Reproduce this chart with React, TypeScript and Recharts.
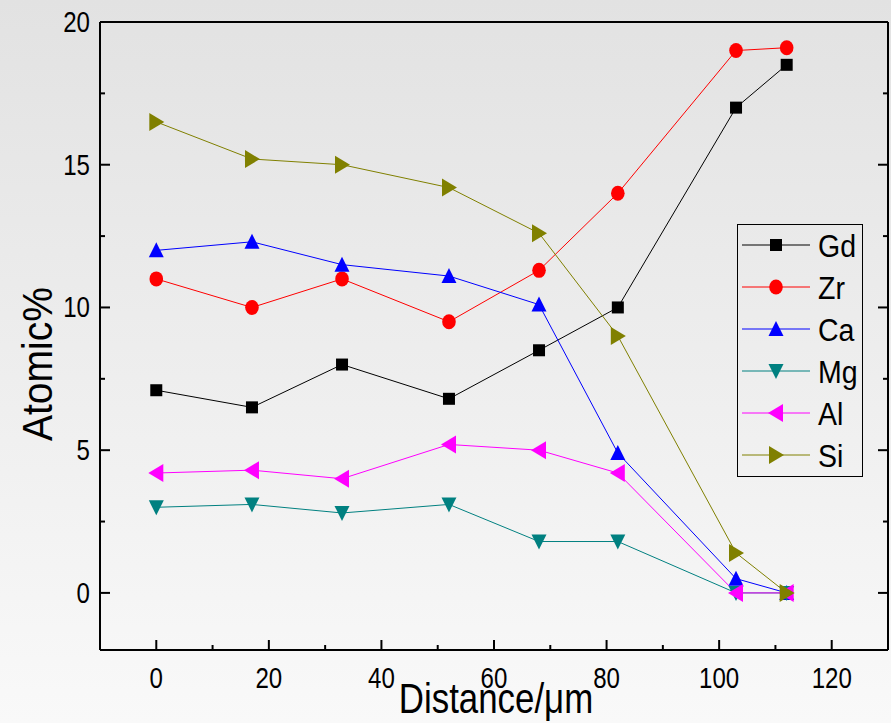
// Atomic% vs distance line scan (Gd, Zr, Ca, Mg, Al, Si)

import { LineChart, Line, XAxis, YAxis, Label } from "recharts";

const distance = [0, 17, 33, 52, 68, 82, 103, 112];
const gd = [7.1, 6.5, 8.0, 6.8, 8.5, 10.0, 17.0, 18.5];
const zr = [11.0, 10.0, 11.0, 9.5, 11.3, 14.0, 19.0, 19.1];
const ca = [12.0, 12.3, 11.5, 11.1, 10.1, 4.9, 0.5, 0];
const mg = [3.0, 3.1, 2.8, 3.1, 1.8, 1.8, 0, 0];
const al = [4.2, 4.3, 4.0, 5.2, 5.0, 4.2, 0, 0];
const si = [16.5, 15.2, 15.0, 14.2, 12.6, 9.0, 1.4, 0];

const xTicks = [0, 10, 20, 30, 40, 50, 60, 70, 80, 90, 100, 110, 120];
const yTicks = [0, 2.5, 5, 7.5, 10, 12.5, 15, 17.5, 20];

const series = [
  { name: "Gd", values: gd, color: "#000000", shape: "square" },
  { name: "Zr", values: zr, color: "#ff0000", shape: "circle" },
  { name: "Ca", values: ca, color: "#0000ff", shape: "up" },
  { name: "Mg", values: mg, color: "#008080", shape: "down" },
  { name: "Al", values: al, color: "#ff00ff", shape: "left" },
  { name: "Si", values: si, color: "#808000", shape: "right" },
];

const data = distance.map((d, i) => {
  const row: Record<string, number> = { distance: d };
  series.forEach((s) => {
    row[s.name] = s.values[i];
  });
  return row;
});

const W = 891;
const H = 723;
// plot area: x 100..888, y 22..650
const plotLeft = 100;
const plotRight = 888;
const plotTop = 22;
const plotBottom = 650;
const font = "'Liberation Sans', Arial, sans-serif";

// condensed text, like the Origin export
function Txt({ x, y, size, sx = 0.85, anchor = "middle", rotate = 0, children }: any) {
  return (
    <text
      transform={`translate(${x},${y}) rotate(${rotate}) scale(${sx},1)`}
      textAnchor={anchor}
      fontSize={size}
      fontFamily={font}
      fill="#000"
    >
      {children}
    </text>
  );
}

function Marker({ cx, cy, color, shape }: any) {
  if (cx == null || cy == null) return null;
  if (shape === "square")
    return <rect x={cx - 6} y={cy - 6} width={12} height={12} fill={color} />;
  if (shape === "circle")
    return <ellipse cx={cx} cy={cy} rx={6.8} ry={7.5} fill={color} />;
  let pts = "";
  if (shape === "up") pts = `${cx},${cy - 8} ${cx - 7.5},${cy + 7} ${cx + 7.5},${cy + 7}`;
  if (shape === "down") pts = `${cx},${cy + 8} ${cx - 7.5},${cy - 7} ${cx + 7.5},${cy - 7}`;
  if (shape === "left") pts = `${cx - 8},${cy} ${cx + 7},${cy - 9} ${cx + 7},${cy + 9}`;
  if (shape === "right") pts = `${cx + 8},${cy} ${cx - 7},${cy - 9} ${cx - 7},${cy + 9}`;
  return <polygon points={pts} fill={color} />;
}

function BottomTick({ x, payload }: any) {
  const major = payload.value % 20 === 0;
  return (
    <g>
      <line x1={x} x2={x} y1={plotBottom} y2={plotBottom - (major ? 10 : 5)} stroke="#000" strokeWidth={2} />
      {major && (
        <Txt x={x} y={plotBottom + 38} size={29} sx={0.83}>
          {payload.value}
        </Txt>
      )}
    </g>
  );
}

function TopTick({ x, payload }: any) {
  const major = payload.value % 20 === 0;
  return <line x1={x} x2={x} y1={plotTop} y2={plotTop + (major ? 10 : 5)} stroke="#000" strokeWidth={2} />;
}

function LeftTick({ y, payload }: any) {
  const major = payload.value % 5 === 0;
  return (
    <g>
      <line x1={plotLeft} x2={plotLeft + (major ? 10 : 5)} y1={y} y2={y} stroke="#000" strokeWidth={2} />
      {major && (
        <Txt x={plotLeft - 10} y={y + 10} size={29} sx={0.83} anchor="end">
          {payload.value}
        </Txt>
      )}
    </g>
  );
}

function RightTick({ y, payload }: any) {
  const major = payload.value % 5 === 0;
  return <line x1={plotRight} x2={plotRight - (major ? 10 : 5)} y1={y} y2={y} stroke="#000" strokeWidth={2} />;
}

function XTitle({ viewBox }: any) {
  const { x, width } = viewBox;
  return (
    <Txt x={x + width / 2 + 2} y={plotBottom + 63} size={42} sx={0.83}>
      Distance/μm
    </Txt>
  );
}

function YTitle({ viewBox }: any) {
  const { y, height } = viewBox;
  return (
    <Txt x={52} y={y + height / 2 + 28} size={42} sx={0.93} rotate={-90}>
      Atomic%
    </Txt>
  );
}

function LegendBox() {
  const rowH = 42;
  return (
    <svg width={126} height={253} style={{ position: "absolute", left: 737, top: 224 }}>
      <rect x={0.5} y={0.5} width={125} height={252} fill="none" stroke="#000" strokeWidth={1} />
      {series.map((s, i) => {
        const cy = 21 + i * rowH;
        return (
          <g key={s.name}>
            <line x1={5} x2={73} y1={cy} y2={cy} stroke={s.color} strokeWidth={1} />
            <Marker cx={39} cy={cy} color={s.color} shape={s.shape} />
            <Txt x={81} y={cy + 12} size={31} sx={0.92} anchor="start">
              {s.name}
            </Txt>
          </g>
        );
      })}
    </svg>
  );
}

const axisLine = { stroke: "#000", strokeWidth: 2 };

export default function App() {
  return (
    <div
      style={{
        position: "absolute",
        left: 0,
        top: 0,
        width: W,
        height: H,
        background: "linear-gradient(#e2e2e2, #f9f9f9)",
      }}
    >
      <LineChart
        width={W}
        height={H}
        data={data}
        margin={{ top: plotTop - 2, right: W - plotRight - 2, bottom: H - plotBottom - 40, left: plotLeft - 60 }}
      >
        <XAxis
          type="number"
          dataKey="distance"
          domain={[-10, 130]}
          allowDataOverflow
          ticks={xTicks}
          height={40}
          tickLine={false}
          tick={<BottomTick />}
          axisLine={axisLine}
          interval={0}
        >
          <Label content={<XTitle />} />
        </XAxis>
        <XAxis
          xAxisId="top"
          orientation="top"
          type="number"
          domain={[-10, 130]}
          allowDataOverflow
          ticks={xTicks}
          height={2}
          tickLine={false}
          tick={<TopTick />}
          axisLine={axisLine}
          interval={0}
        />
        <YAxis
          type="number"
          domain={[-2, 20]}
          allowDataOverflow
          ticks={yTicks}
          width={60}
          tickLine={false}
          tick={<LeftTick />}
          axisLine={axisLine}
          interval={0}
        >
          <Label content={<YTitle />} />
        </YAxis>
        <YAxis
          yAxisId="right"
          orientation="right"
          type="number"
          domain={[-2, 20]}
          allowDataOverflow
          ticks={yTicks}
          width={2}
          tickLine={false}
          tick={<RightTick />}
          axisLine={axisLine}
          interval={0}
        />
        {series.map((s) => (
          <Line
            key={s.name}
            dataKey={s.name}
            stroke={s.color}
            strokeWidth={1}
            isAnimationActive={false}
            dot={(p: any) => (
              <Marker key={`${s.name}-${p.index}`} cx={p.cx} cy={p.cy} color={s.color} shape={s.shape} />
            )}
            activeDot={false}
          />
        ))}
      </LineChart>
      <LegendBox />
    </div>
  );
}
